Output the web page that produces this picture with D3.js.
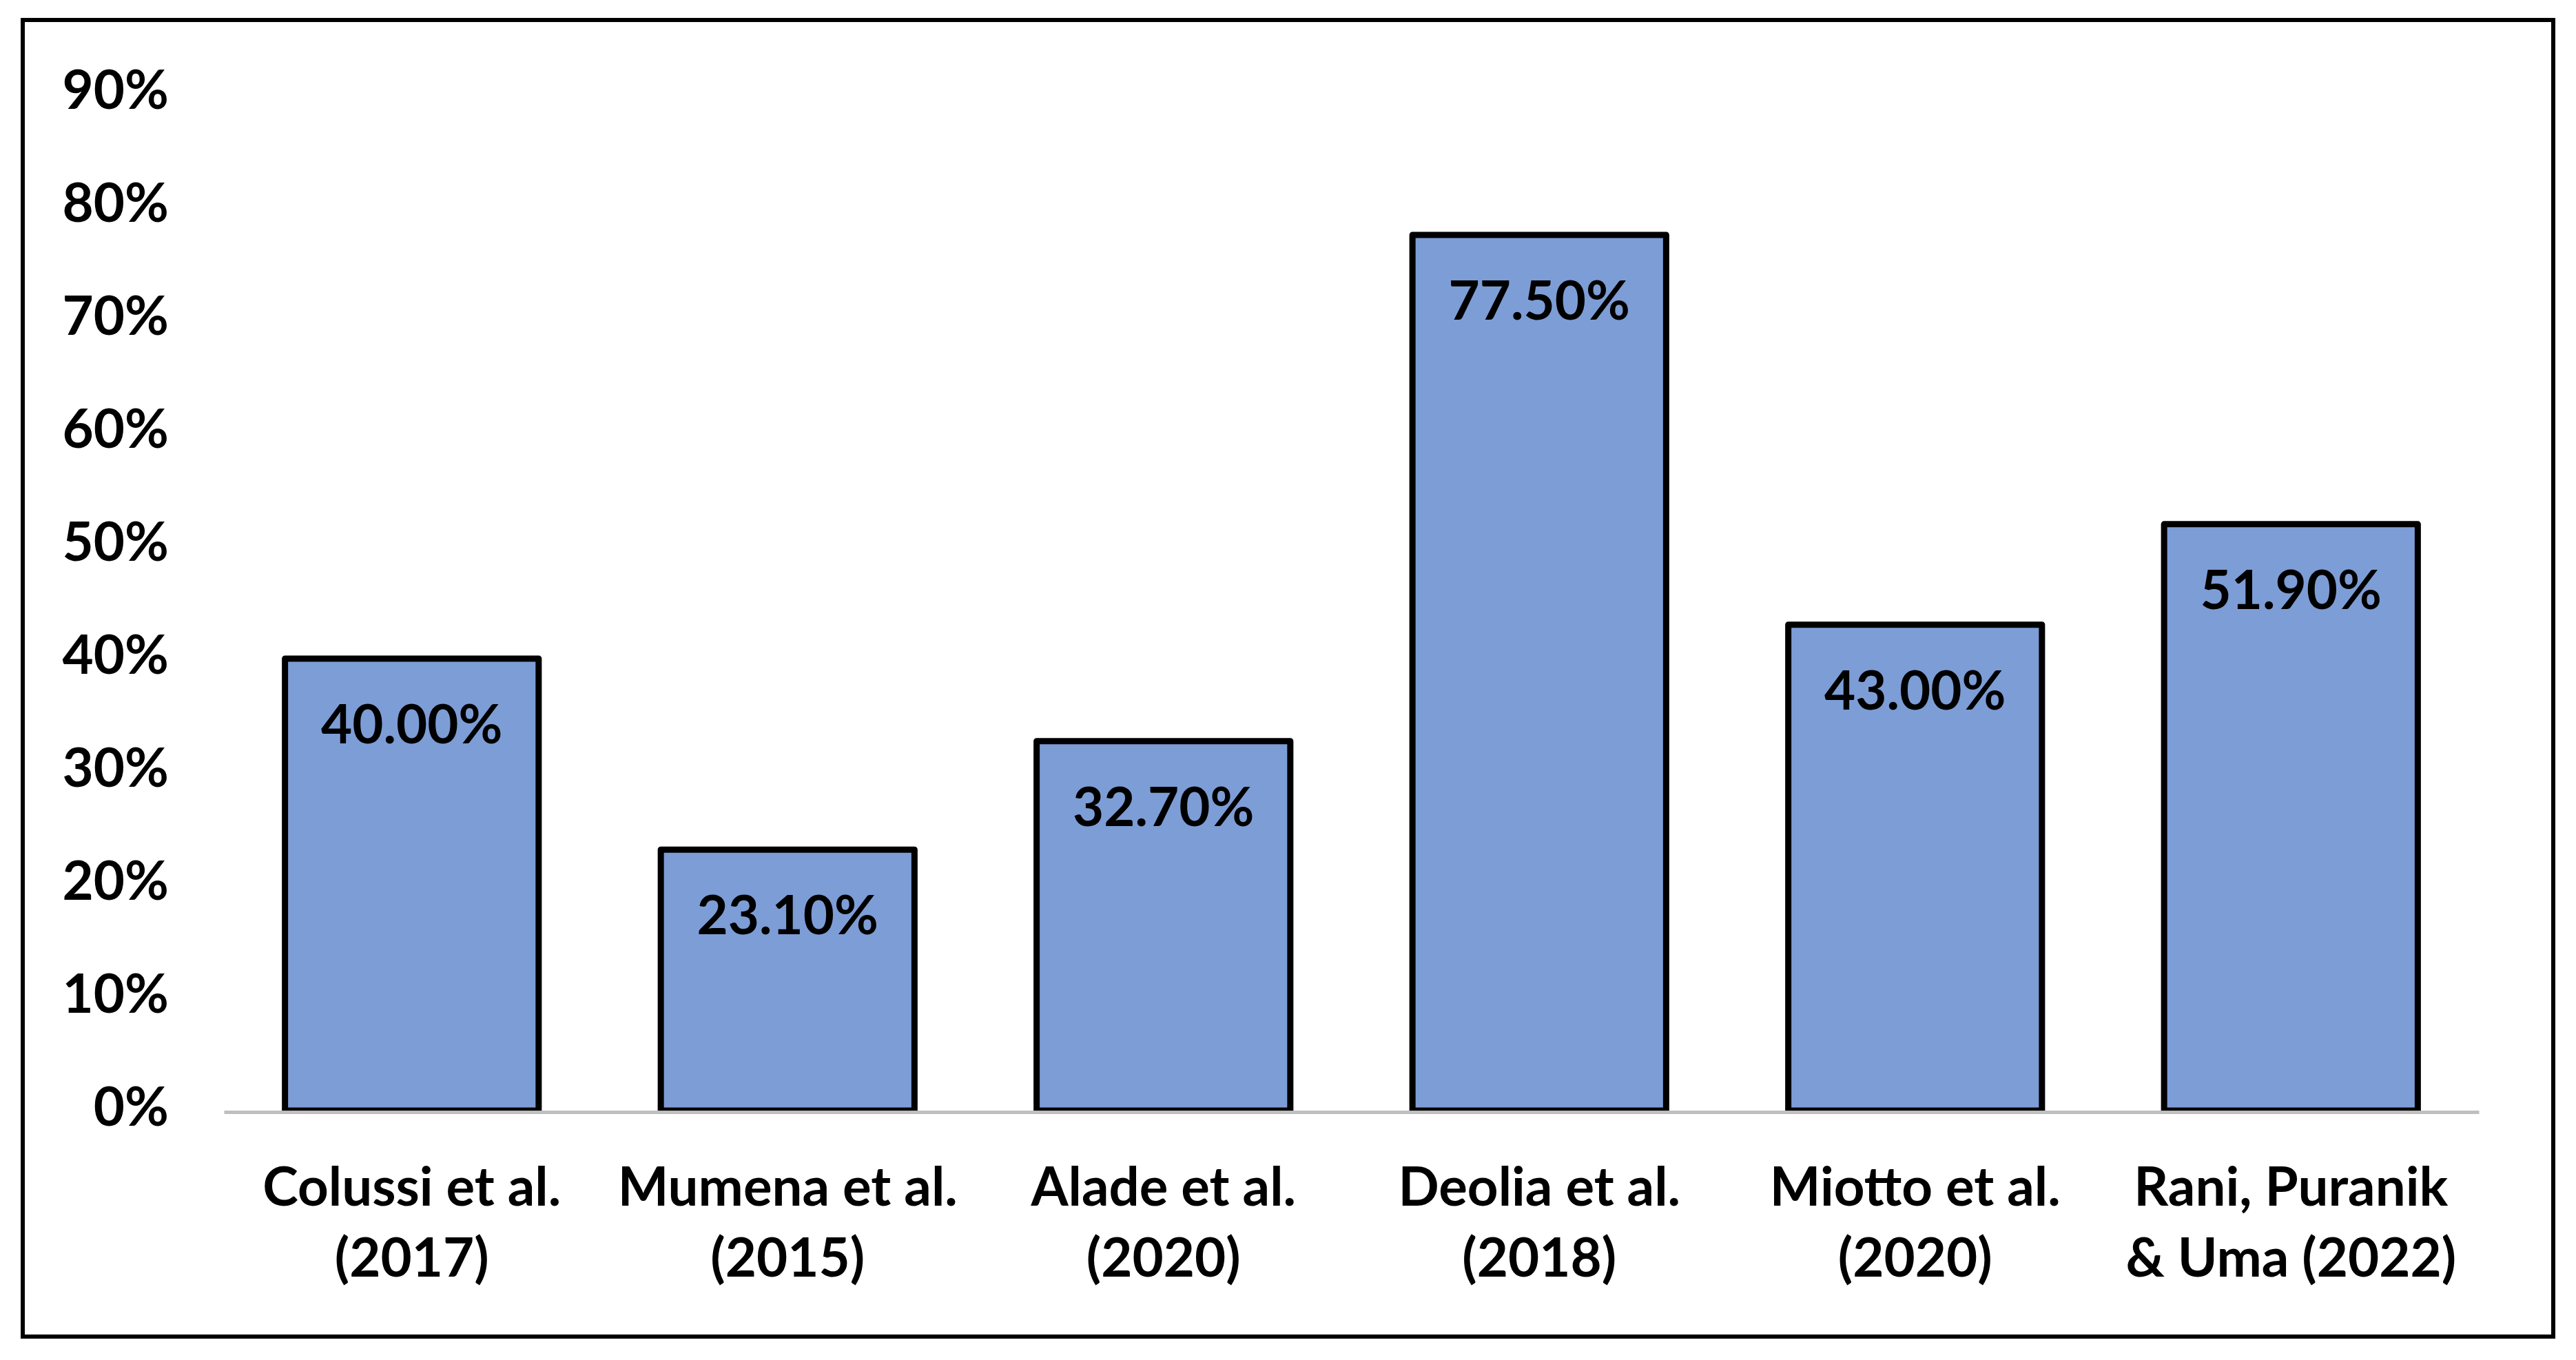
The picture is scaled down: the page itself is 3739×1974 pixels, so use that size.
<!DOCTYPE html>
<html>
<head>
<meta charset="utf-8">
<script src="https://cdn.jsdelivr.net/npm/d3@7"></script>
<style>
  html, body { margin: 0; padding: 0; background: #ffffff; }
  svg { display: block; }
</style>
</head>
<body>
<script>
const categories = [
  ["Colussi et al.", "(2017)"],
  ["Mumena et al.", "(2015)"],
  ["Alade et al.", "(2020)"],
  ["Deolia et al.", "(2018)"],
  ["Miotto et al.", "(2020)"],
  ["Rani, Puranik", "& Uma (2022)"]
];
const values = [0.400, 0.231, 0.327, 0.775, 0.430, 0.519];
const valueLabels = ["40.00%", "23.10%", "32.70%", "77.50%", "43.00%", "51.90%"];
const yTicks = [0, 0.1, 0.2, 0.3, 0.4, 0.5, 0.6, 0.7, 0.8, 0.9];
const yTickLabels = ["0%", "10%", "20%", "30%", "40%", "50%", "60%", "70%", "80%", "90%"];

const W = 3739, H = 1974;
const FONT = "Lato, 'Open Sans', sans-serif";

const svg = d3.select("body").append("svg")
  .attr("width", W).attr("height", H);

svg.append("rect").attr("width", W).attr("height", H).attr("fill", "#ffffff");

// outer border
svg.append("rect")
  .attr("x", 33).attr("y", 29)
  .attr("width", 3673).attr("height", 1911)
  .attr("fill", "none").attr("stroke", "#000").attr("stroke-width", 6);

const x0 = 325, x1 = 3598, yBase = 1612, yTop = 136;

const keys = categories.map((c, i) => i);
const x = d3.scaleBand().domain(keys).range([x0, x1]).paddingInner(0.325).paddingOuter(0.1625);
const y = d3.scaleLinear().domain([0, 0.9]).range([yBase, yTop]);

// y axis labels
const yAxis = d3.axisLeft(y).tickValues(yTicks)
  .tickFormat((d, i) => yTickLabels[i]).tickSize(0).tickPadding(80);
const gy = svg.append("g").attr("transform", `translate(${x0},0)`).call(yAxis);
gy.select(".domain").remove();
gy.selectAll("text")
  .attr("font-family", FONT).attr("font-weight", 700)
  .attr("font-size", 78).attr("fill", "#000")
  .attr("dy", "0.3em").attr("transform", "translate(0,-2)");

// bars
svg.append("g").selectAll("rect").data(values).join("rect")
  .attr("x", (d, i) => x(i))
  .attr("y", d => y(d))
  .attr("width", x.bandwidth())
  .attr("height", d => yBase - y(d))
  .attr("fill", "#7d9dd6")
  .attr("stroke", "#000").attr("stroke-width", 9)
  .attr("stroke-linejoin", "round");

// baseline
const xAxis = d3.axisBottom(x).tickSize(0).tickFormat("");
const gx = svg.append("g").attr("transform", `translate(0,${yBase + 2})`).call(xAxis);
gx.select(".domain").attr("stroke", "#bfbfbf").attr("stroke-width", 5);
gx.selectAll(".tick").remove();
svg.selectAll("g > rect").raise();

// value labels
svg.append("g").selectAll("text").data(values).join("text")
  .attr("x", (d, i) => x(i) + x.bandwidth() / 2)
  .attr("y", d => y(d) + 123)
  .attr("text-anchor", "middle")
  .attr("font-family", FONT).attr("font-weight", 700)
  .attr("font-size", 78).attr("fill", "#000")
  .text((d, i) => valueLabels[i]);

// category labels
const cl = svg.append("g").selectAll("text").data(categories).join("text")
  .attr("text-anchor", "middle")
  .attr("font-family", FONT).attr("font-weight", 700)
  .attr("font-size", 78).attr("fill", "#000");
cl.each(function(d, i) {
  const t = d3.select(this);
  d.forEach((line, j) => {
    t.append("tspan")
      .attr("x", x(i) + x.bandwidth() / 2)
      .attr("y", 1750 + j * 103)
      .text(line);
  });
});
</script>
</body>
</html>
